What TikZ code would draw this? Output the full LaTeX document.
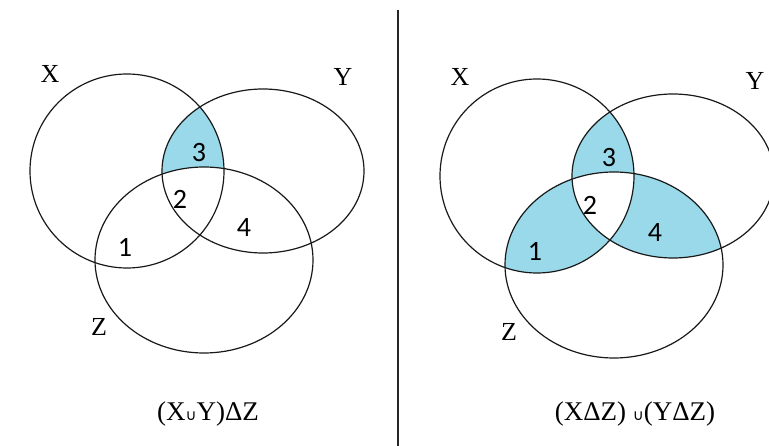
\documentclass[tikz,border=0pt]{standalone}
\usepackage{fontspec}
\setmainfont{Liberation Serif}
\newfontfamily\numfont{Carlito}
\newfontfamily\symfont{DejaVu Sans}
\definecolor{venn}{HTML}{99D9EA}
\begin{document}
\begin{tikzpicture}[x=1pt,y=-1pt,
  lbl/.style={font=\fontsize{26}{26}\selectfont, inner sep=0pt},
  num/.style={font=\numfont\fontsize{28}{28}\selectfont, inner sep=0pt},
  captext/.style={font=\fontsize{27}{27}\selectfont, inner sep=0pt},
  ring/.style={draw=black!90, line width=1.2pt},
  divider/.style={draw=black!85, line width=1.5pt}]
\useasboundingbox (0,0) rectangle (769,446);
\clip (0,0) rectangle (769,446);
\fill[white] (0,0) rectangle (769,446);
\def\cx{(127,171) ellipse [x radius=97pt, y radius=97pt]}
\def\cy{(263,171) ellipse [x radius=101pt, y radius=82pt]}
\def\cz{(204,260) ellipse [x radius=109pt, y radius=93pt]}
% ---------- left panel: (X u Y) delta Z ----------
\begin{scope}
  \clip \cx; \clip \cy; \fill[venn] \cx;
\end{scope}
\begin{scope}
  \clip \cx; \clip \cy; \fill[white] \cz;
\end{scope}
\draw[ring] \cx; \draw[ring] \cy; \draw[ring] \cz;
\node[lbl] (lX) at (50,74) {X};
\node[lbl] (lY) at (343,77) {Y};
\node[lbl] (lZ) at (99,327) {Z};
\node[num] (l1) at (125,247) {1};
\node[num] (l2) at (180,199) {2};
\node[num] (l3) at (199,153) {3};
\node[num] (l4) at (244,228) {4};
\node[captext] (lcap) at (208,414) {(X{\symfont\fontsize{15}{15}\selectfont ∪}Y)ΔZ};
% ---------- divider ----------
\coordinate (dtop) at (398,10);
\coordinate (dbot) at (398,446);
\draw[divider] (dtop) -- (dbot);
% ---------- right panel: (X delta Z) u (Y delta Z) ----------
\begin{scope}[shift={(410,5)}]
  \begin{scope}\clip \cx; \clip \cy; \fill[venn] \cx;\end{scope}
  \begin{scope}\clip \cx; \clip \cz; \fill[venn] \cx;\end{scope}
  \begin{scope}\clip \cy; \clip \cz; \fill[venn] \cy;\end{scope}
  \begin{scope}\clip \cx; \clip \cy; \fill[white] \cz;\end{scope}
  \draw[ring] \cx; \draw[ring] \cy; \draw[ring] \cz;
\end{scope}
\node[lbl] (rX) at (460,77) {X};
\node[lbl] (rY) at (755,81) {Y};
\node[lbl] (rZ) at (509,332) {Z};
\node[num] (r1) at (535,251) {1};
\node[num] (r2) at (590,205) {2};
\node[num] (r3) at (609,158) {3};
\node[num] (r4) at (655,233) {4};
\node[captext] (rcap) at (635,414) {(XΔZ) {\symfont\fontsize{15}{15}\selectfont ∪}(YΔZ)};
\end{tikzpicture}
\end{document}
